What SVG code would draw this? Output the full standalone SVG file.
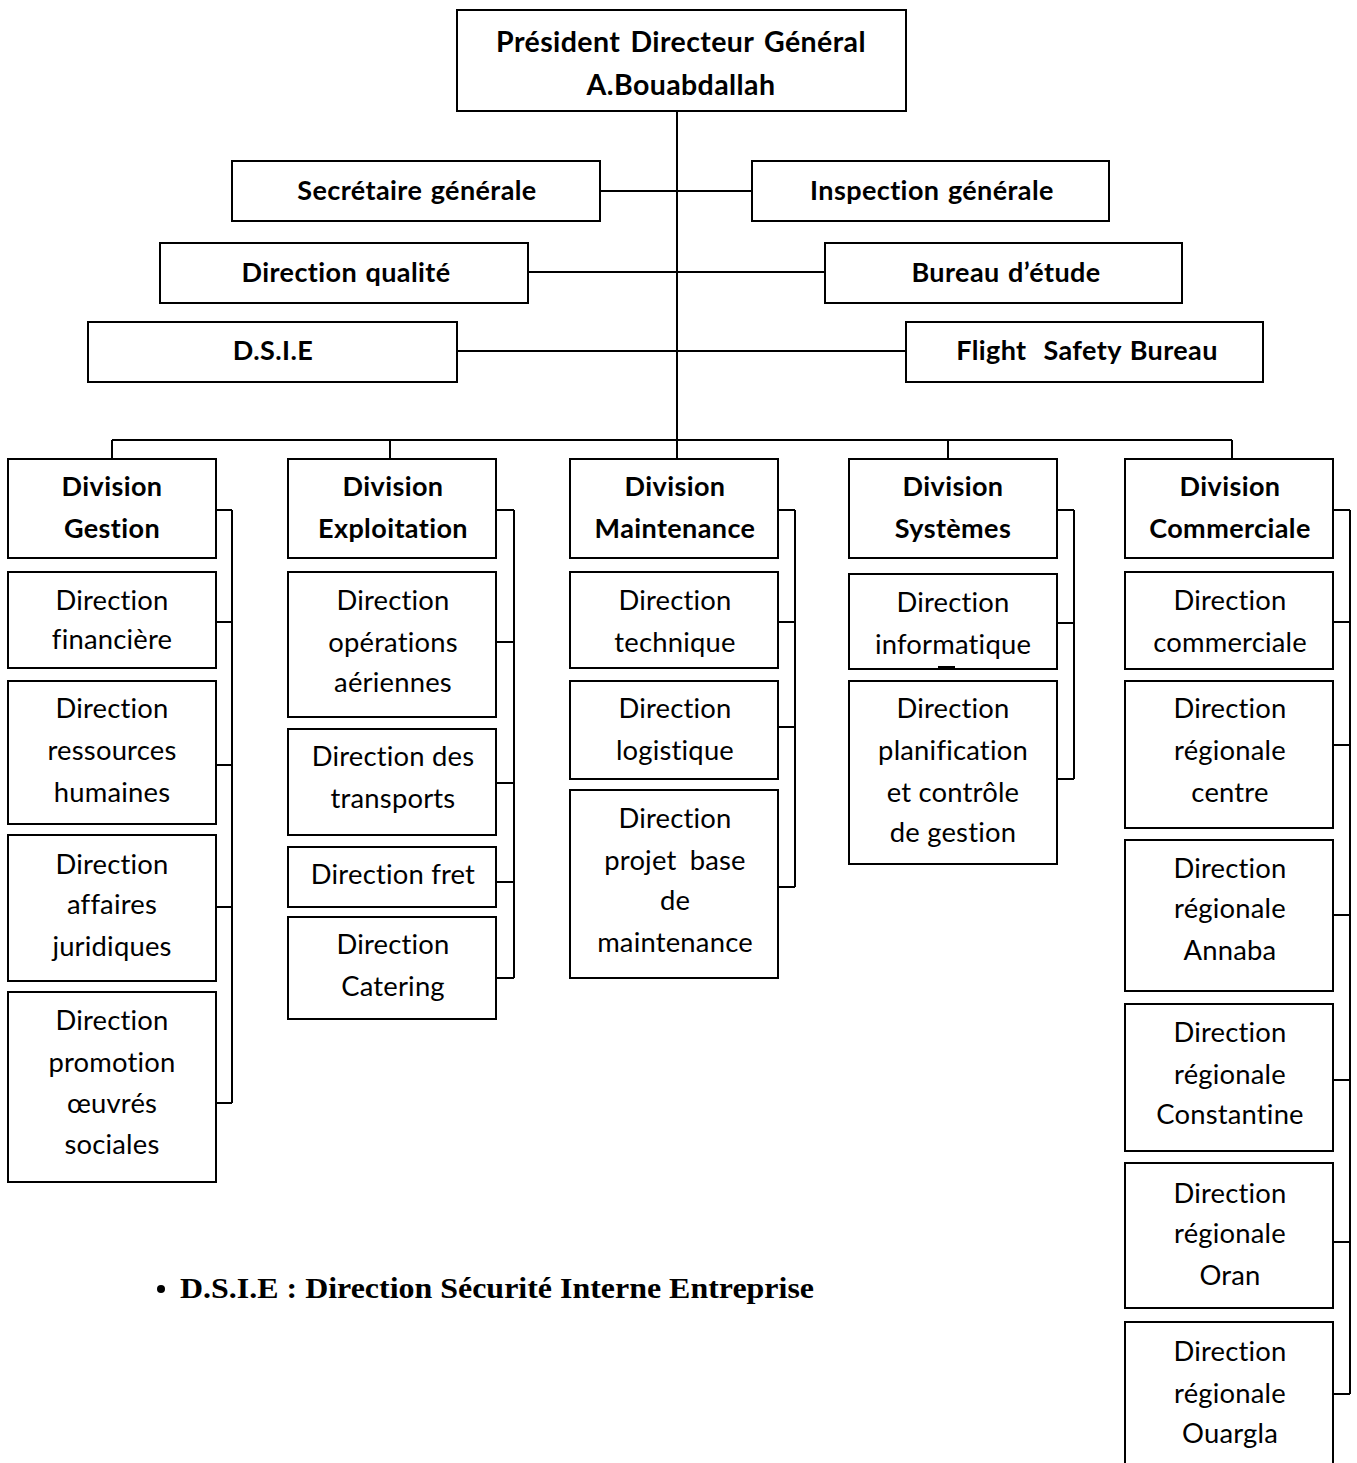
<svg xmlns="http://www.w3.org/2000/svg" width="1357" height="1463" viewBox="0 0 1357 1463">
  <style>
    .box { fill: #ffffff; stroke: #000000; stroke-width: 2; }
    .wire { fill: none; stroke: #000000; stroke-width: 2; }
    .b { font-family: Lato, "Liberation Sans", sans-serif; font-weight: bold; font-size: 27px; letter-spacing: 0.4px; word-spacing: 1.5px; fill: #000000; text-anchor: middle; }
    .r { font-family: Lato, "Liberation Sans", sans-serif; font-size: 27.4px; letter-spacing: 0.2px; fill: #000000; text-anchor: middle; }
    .note { font-family: "Liberation Serif", serif; font-weight: bold; font-size: 30px; fill: #000000; }
  </style>
  <rect width="1357" height="1463" fill="#ffffff"/>

  <!-- connectors -->
  <g id="connectors" class="wire">
    <path d="M677 111 V440"/>
    <path d="M600 191 H752"/>
    <path d="M528 272 H825"/>
    <path d="M457 351 H906"/>
    <path d="M112 440 H1232"/>
    <path d="M112 440 V459 M390 440 V459 M677 440 V459 M948 440 V459 M1232 440 V459"/>
    <!-- Division Gestion -->
    <path d="M232 510 V1103 M216 510 H232 M216 622 H232 M216 765 H232 M216 907 H232 M216 1103 H232"/>
    <!-- Division Exploitation -->
    <path d="M514 510 V978 M496 510 H514 M496 642 H514 M496 783 H514 M496 882 H514 M496 978 H514"/>
    <!-- Division Maintenance -->
    <path d="M795 510 V887 M778 510 H795 M778 622 H795 M778 727 H795 M778 887 H795"/>
    <!-- Division Systèmes -->
    <path d="M1074 510 V779 M1057 510 H1074 M1057 623 H1074 M1057 779 H1074"/>
    <!-- Division Commerciale -->
    <path d="M1350 510 V1394 M1333 510 H1350 M1333 622 H1350 M1333 745 H1350 M1333 915 H1350 M1333 1080 H1350 M1333 1242 H1350 M1333 1394 H1350"/>
  </g>

  <!-- top management -->
  <g id="pdg">
    <rect class="box" x="457" y="10" width="449" height="101"/>
    <text class="b" x="681" y="52" style="font-size:28.5px;word-spacing:3px">Président Directeur Général</text>
    <text class="b" x="681" y="95" style="font-size:28.5px">A.Bouabdallah</text>
  </g>
  <g id="secretaire">
    <rect class="box" x="232" y="161" width="368" height="60"/>
    <text class="b" x="417" y="200">Secrétaire générale</text>
  </g>
  <g id="inspection">
    <rect class="box" x="752" y="161" width="357" height="60"/>
    <text class="b" x="932" y="200">Inspection générale</text>
  </g>
  <g id="qualite">
    <rect class="box" x="160" y="243" width="368" height="60"/>
    <text class="b" x="346" y="282">Direction qualité</text>
  </g>
  <g id="bureau-etude">
    <rect class="box" x="825" y="243" width="357" height="60"/>
    <text class="b" x="1006" y="282">Bureau d’étude</text>
  </g>
  <g id="dsie">
    <rect class="box" x="88" y="322" width="369" height="60"/>
    <text class="b" x="273" y="360">D.S.I.E</text>
  </g>
  <g id="flight-safety">
    <rect class="box" x="906" y="322" width="357" height="60"/>
    <text class="b" x="1087" y="360" xml:space="preserve">Flight  Safety Bureau</text>
  </g>

  <!-- divisions -->
  <g id="div-gestion">
    <rect class="box" x="8" y="459" width="208" height="99"/>
    <text class="b" x="112" y="496">Division</text>
    <text class="b" x="112" y="538">Gestion</text>
  </g>
  <g id="div-exploitation">
    <rect class="box" x="288" y="459" width="208" height="99"/>
    <text class="b" x="393" y="496">Division</text>
    <text class="b" x="393" y="538">Exploitation</text>
  </g>
  <g id="div-maintenance">
    <rect class="box" x="570" y="459" width="208" height="99"/>
    <text class="b" x="675" y="496">Division</text>
    <text class="b" x="675" y="538">Maintenance</text>
  </g>
  <g id="div-systemes">
    <rect class="box" x="849" y="459" width="208" height="99"/>
    <text class="b" x="953" y="496">Division</text>
    <text class="b" x="953" y="538">Systèmes</text>
  </g>
  <g id="div-commerciale">
    <rect class="box" x="1125" y="459" width="208" height="99"/>
    <text class="b" x="1230" y="496">Division</text>
    <text class="b" x="1230" y="538">Commerciale</text>
  </g>

  <!-- Gestion directions -->
  <g id="dir-financiere">
    <rect class="box" x="8" y="572" width="208" height="96"/>
    <text class="r" x="112" y="610">Direction</text>
    <text class="r" x="112" y="649">financière</text>
  </g>
  <g id="dir-rh">
    <rect class="box" x="8" y="681" width="208" height="143"/>
    <text class="r" x="112" y="718">Direction</text>
    <text class="r" x="112" y="760">ressources</text>
    <text class="r" x="112" y="802">humaines</text>
  </g>
  <g id="dir-juridiques">
    <rect class="box" x="8" y="835" width="208" height="146"/>
    <text class="r" x="112" y="874">Direction</text>
    <text class="r" x="112" y="914">affaires</text>
    <text class="r" x="112" y="956">juridiques</text>
  </g>
  <g id="dir-oeuvres">
    <rect class="box" x="8" y="992" width="208" height="190"/>
    <text class="r" x="112" y="1030">Direction</text>
    <text class="r" x="112" y="1072">promotion</text>
    <text class="r" x="112" y="1113">œuvrés</text>
    <text class="r" x="112" y="1154">sociales</text>
  </g>

  <!-- Exploitation directions -->
  <g id="dir-operations">
    <rect class="box" x="288" y="572" width="208" height="145"/>
    <text class="r" x="393" y="610">Direction</text>
    <text class="r" x="393" y="652">opérations</text>
    <text class="r" x="393" y="692">aériennes</text>
  </g>
  <g id="dir-transports">
    <rect class="box" x="288" y="729" width="208" height="106"/>
    <text class="r" x="393" y="766">Direction des</text>
    <text class="r" x="393" y="808">transports</text>
  </g>
  <g id="dir-fret">
    <rect class="box" x="288" y="847" width="208" height="60"/>
    <text class="r" x="393" y="884">Direction fret</text>
  </g>
  <g id="dir-catering">
    <rect class="box" x="288" y="917" width="208" height="102"/>
    <text class="r" x="393" y="954">Direction</text>
    <text class="r" x="393" y="996">Catering</text>
  </g>

  <!-- Maintenance directions -->
  <g id="dir-technique">
    <rect class="box" x="570" y="572" width="208" height="96"/>
    <text class="r" x="675" y="610">Direction</text>
    <text class="r" x="675" y="652">technique</text>
  </g>
  <g id="dir-logistique">
    <rect class="box" x="570" y="681" width="208" height="98"/>
    <text class="r" x="675" y="718">Direction</text>
    <text class="r" x="675" y="760">logistique</text>
  </g>
  <g id="dir-projet-base">
    <rect class="box" x="570" y="790" width="208" height="188"/>
    <text class="r" x="675" y="828">Direction</text>
    <text class="r" x="675" y="870" style="word-spacing:6px">projet base</text>
    <text class="r" x="675" y="910">de</text>
    <text class="r" x="675" y="952">maintenance</text>
  </g>

  <!-- Systèmes directions -->
  <g id="dir-informatique">
    <rect class="box" x="849" y="574" width="208" height="95"/>
    <text class="r" x="953" y="612">Direction</text>
    <text class="r" x="953" y="654">informatique</text>
    <path class="wire" d="M938 667 H955"/>
  </g>
  <g id="dir-planification">
    <rect class="box" x="849" y="681" width="208" height="183"/>
    <text class="r" x="953" y="718">Direction</text>
    <text class="r" x="953" y="760">planification</text>
    <text class="r" x="953" y="802">et contrôle</text>
    <text class="r" x="953" y="842">de gestion</text>
  </g>

  <!-- Commerciale directions -->
  <g id="dir-commerciale">
    <rect class="box" x="1125" y="572" width="208" height="97"/>
    <text class="r" x="1230" y="610">Direction</text>
    <text class="r" x="1230" y="652">commerciale</text>
  </g>
  <g id="dir-centre">
    <rect class="box" x="1125" y="681" width="208" height="147"/>
    <text class="r" x="1230" y="718">Direction</text>
    <text class="r" x="1230" y="760">régionale</text>
    <text class="r" x="1230" y="802">centre</text>
  </g>
  <g id="dir-annaba">
    <rect class="box" x="1125" y="840" width="208" height="151"/>
    <text class="r" x="1230" y="878">Direction</text>
    <text class="r" x="1230" y="918">régionale</text>
    <text class="r" x="1230" y="960">Annaba</text>
  </g>
  <g id="dir-constantine">
    <rect class="box" x="1125" y="1004" width="208" height="147"/>
    <text class="r" x="1230" y="1042">Direction</text>
    <text class="r" x="1230" y="1084">régionale</text>
    <text class="r" x="1230" y="1124">Constantine</text>
  </g>
  <g id="dir-oran">
    <rect class="box" x="1125" y="1163" width="208" height="145"/>
    <text class="r" x="1230" y="1203">Direction</text>
    <text class="r" x="1230" y="1243">régionale</text>
    <text class="r" x="1230" y="1285">Oran</text>
  </g>
  <g id="dir-ouargla">
    <rect class="box" x="1125" y="1322" width="208" height="160"/>
    <text class="r" x="1230" y="1361">Direction</text>
    <text class="r" x="1230" y="1403">régionale</text>
    <text class="r" x="1230" y="1443">Ouargla</text>
  </g>

  <!-- footnote -->
  <g id="legend">
    <circle cx="161" cy="1289" r="4" fill="#000000"/>
    <text class="note" x="180" y="1298" textLength="634" lengthAdjust="spacingAndGlyphs">D.S.I.E : Direction Sécurité Interne Entreprise</text>
  </g>
</svg>
